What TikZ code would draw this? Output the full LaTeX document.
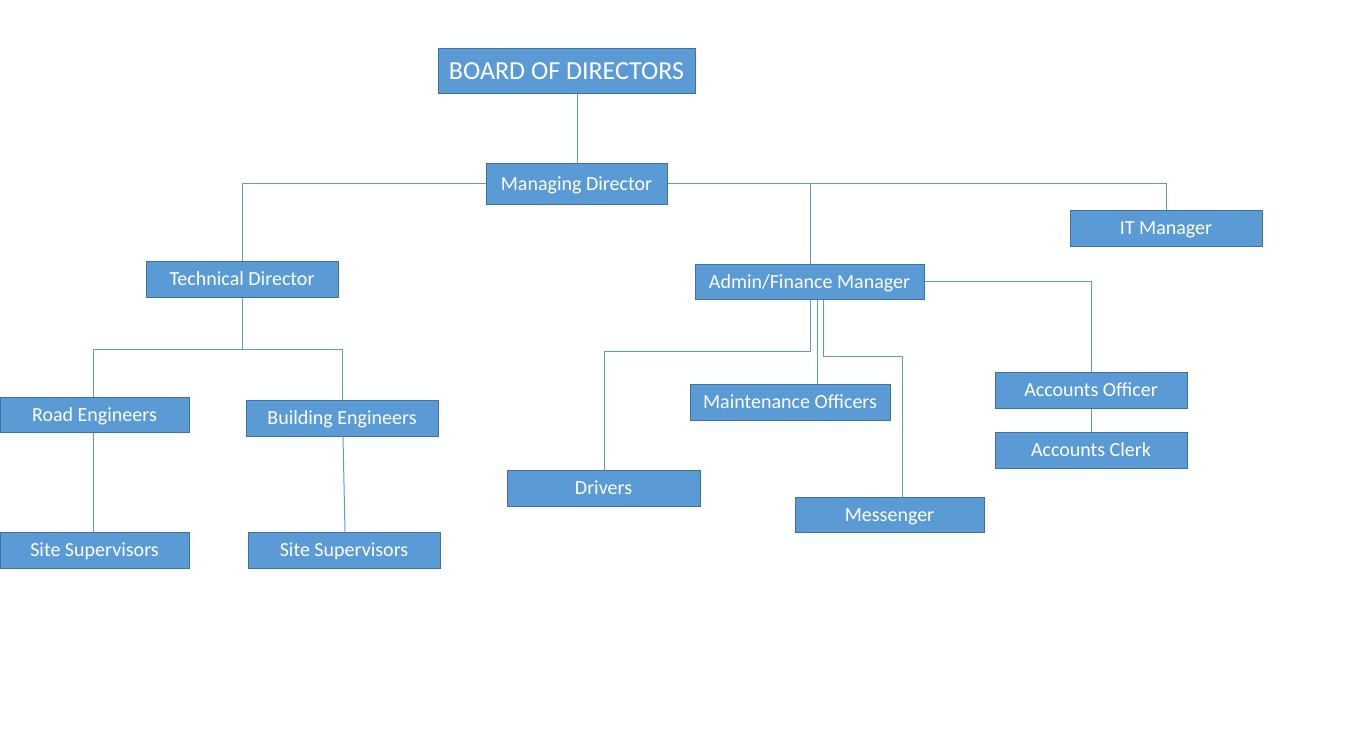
\documentclass[tikz,border=0pt]{standalone}
\usepackage{fontspec}
\setmainfont{Carlito}
\usetikzlibrary{positioning}
\definecolor{boxfill}{HTML}{5B9BD5}
\definecolor{boxedge}{HTML}{41719C}
\definecolor{linkblue}{HTML}{5B9BD5}
\tikzset{every node/.append style={font=\fontsize{20}{24}\selectfont}}
\tikzset{post/.style={draw=boxedge, line width=1pt, fill=boxfill, text=white,
    inner sep=0pt, text height=17pt, text depth=4pt,
    minimum height=36pt, minimum width=192pt}}
\tikzset{link/.style={draw=linkblue, line width=1pt}}

\begin{document}
\begin{tikzpicture}[x=1pt,y=-1pt]
\useasboundingbox (0,0) rectangle (1352,752);
% top levels
\node[post, minimum width=257pt, minimum height=44pt, text height=22pt, text depth=5.3pt,
  font=\fontsize{26}{30}\selectfont] (board) at (566.5,71) {BOARD OF DIRECTORS};
\node[post, minimum width=181pt, minimum height=41pt] (md) at (576.5,183.5) {Managing Director};
\node[post] (itm) at (1166,228) {IT Manager};
\node[post] (tech) at (242,279) {Technical Director};
\node[post, minimum width=229pt, minimum height=35pt] (admin) at (809.5,281.5) {Admin/Finance Manager};
% technical side
\node[post, minimum width=189pt, minimum height=35pt] (road) at (94.5,414.5) {Road Engineers};
\node[post] (build) at (342,418) {Building Engineers};
\node[post, minimum width=189pt] (site1) at (94.5,550) {Site Supervisors};
\node[post] (site2) at (344,550) {Site Supervisors};
% admin side
\node[post, minimum width=200pt] (maint) at (790,402) {Maintenance Officers};
\node[post, minimum width=193pt] (drv) at (603.5,488) {Drivers};
\node[post, minimum width=189pt, minimum height=35pt] (msg) at (889.5,514.5) {Messenger};
\node[post] (acco) at (1091,390) {Accounts Officer};
\node[post] (accc) at (1091,450) {Accounts Clerk};
% connectors
\draw[link] (md.north -| 577,0) -- (board.south -| 577,0);
\draw[link] (md.west) -| (tech.north);
\draw[link] (md.east) -| (itm.north);
\draw[link] (md.east -| 810,0) -- (admin.north -| 810,0);
\draw[link] (tech.south) -- (242,349);
\draw[link] (road.north -| 93,0) |- (342,349) -- (build.north -| 342,0);
\draw[link] (road.south -| 93,0) -- (site1.north -| 93,0);
\draw[link] (build.south -| 343,0) -- (site2.north -| 345,0);
\draw[link] (admin.south -| 810,0) |- (604,351) -- (drv.north -| 604,0);
\draw[link] (admin.south -| 817,0) -- (maint.north -| 817,0);
\draw[link] (admin.south -| 823,0) |- (902,356) -- (msg.north -| 902,0);
\draw[link] (admin.east) -| (acco.north);
\draw[link] (acco.south) -- (accc.north);
\end{tikzpicture}
\end{document}
